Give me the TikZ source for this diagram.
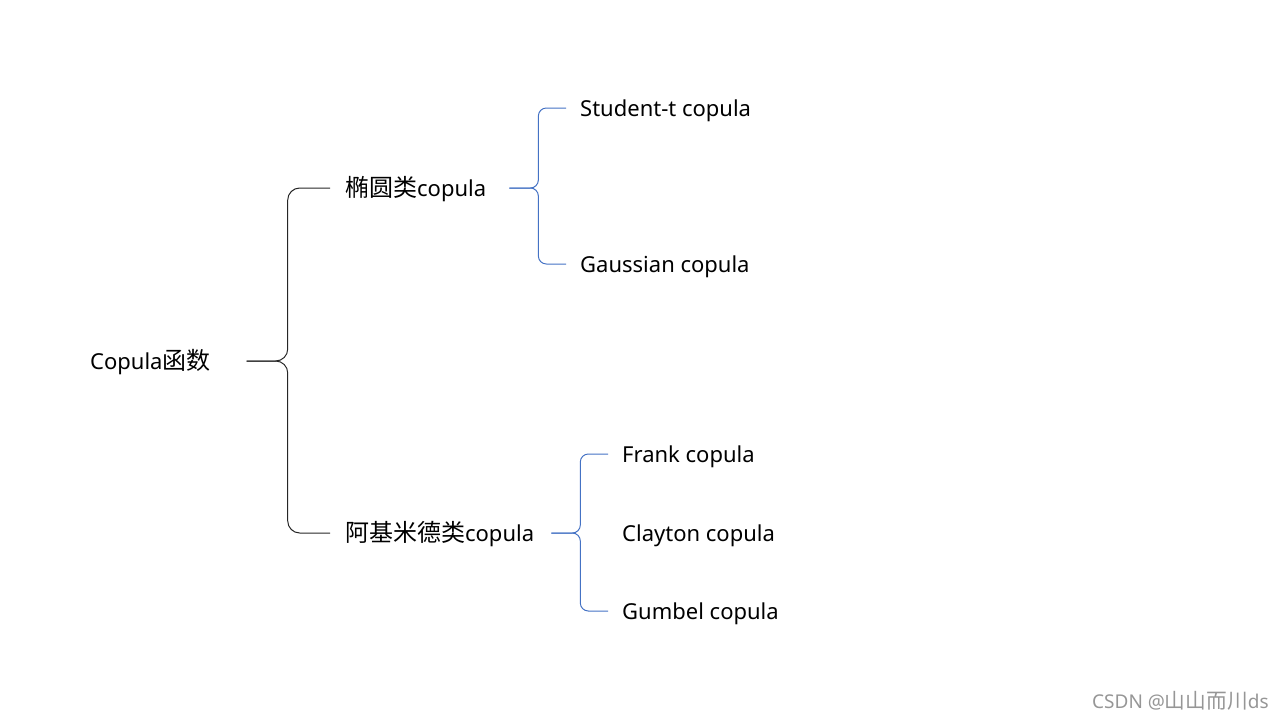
\documentclass[tikz,border=0pt]{standalone}
\usepackage{fontspec}
\setmainfont{Noto Sans}
\newfontfamily\cjk[Scale=1.09]{Noto Sans CJK SC}
\usetikzlibrary{calc}
\definecolor{braceBlue}{RGB}{68,114,196}
\definecolor{markGray}{RGB}{150,150,150}

\begin{document}
\begin{tikzpicture}[
  x=1pt, y=-1pt,
  lbl/.style={font=\fontsize{22}{26}\selectfont, anchor=west, inner sep=0pt,
    text height=16pt, text depth=0pt},
  blk/.style={draw=black!85, line width=1pt, rounded corners=12pt, shorten >=15pt},
  blu/.style={draw=braceBlue, line width=1pt, rounded corners=8pt, shorten >=14pt},
]
  \useasboundingbox (0,0) rectangle (1280,720);

  \node[lbl] (root) at (90,361)  {Copula{\cjk 函数}};
  \node[lbl] (ell)  at (345,188) {{\cjk 椭圆类}copula};
  \node[lbl] (arch) at (345,533) {{\cjk 阿基米德类}copula};
  \node[lbl] (st)   at (580,108) {Student-t copula};
  \node[lbl] (ga)   at (580,264) {Gaussian copula};
  \node[lbl] (fr)   at (622,454) {Frank copula};
  \node[lbl] (cl)   at (622,533) {Clayton copula};
  \node[lbl] (gu)   at (622,611) {Gumbel copula};

  % brace tips
  \coordinate (tipR) at ([xshift=36pt]root.east);
  \coordinate (tipE) at ([xshift=23pt]ell.east);
  \coordinate (tipA) at ([xshift=17pt]arch.east);

  \draw[blk] (tipR) -- ++(41,0) |- (ell.west);
  \draw[blk] (tipR) -- ++(41,0) |- (arch.west);

  \draw[blu] (tipE) -- ++(29,0) |- (st.west);
  \draw[blu] (tipE) -- ++(29,0) |- (ga.west);

  \draw[blu] (tipA) -- ++(29,0) |- (fr.west);
  \draw[blu] (tipA) -- ++(29,0) |- (gu.west);

  \node[anchor=west, inner sep=0pt, text=markGray, font=\fontsize{19}{22}\selectfont]
    (mark) at (1092,701) {CSDN @{\cjk 山山而川}ds};
\end{tikzpicture}
\end{document}
